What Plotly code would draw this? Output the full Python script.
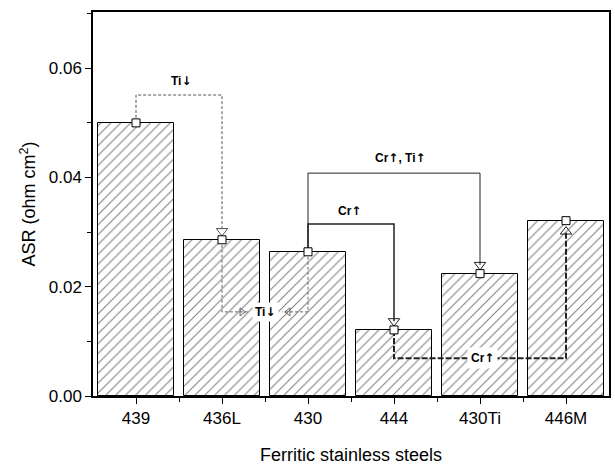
import plotly.graph_objects as go

# ---- data ----
categories = ["439", "436L", "430", "444", "430Ti", "446M"]
asr = [0.0500, 0.0286, 0.0264, 0.0121, 0.0224, 0.0321]
y_ticks = [0.00, 0.02, 0.04, 0.06]

DOWN = "<span style='font-family:DejaVu Sans'>\u2193</span>"
UP = "<span style='font-family:DejaVu Sans'>\u2191</span>"

# connectors: (from index, to index, bracket level, label, label x, label y)
connectors_top = [
    (0, 1, 0.0551, "Ti" + DOWN, 0.53, 0.0577),
    (2, 3, 0.0315, "Cr" + UP, 2.48, 0.0339),
    (2, 4, 0.0408, "Cr" + UP + ", Ti" + UP, 3.07, 0.0436),
]
# lower connectors
ti_low = (1, 2, 0.0154, "Ti" + DOWN, 1.5)
cr_low = (3, 5, 0.0069, "Cr" + UP, 4.03)

FONT = "Arial, Liberation Sans, sans-serif"
x = list(range(len(categories)))

fig = go.Figure()
fig.add_trace(go.Bar(
    x=x, y=asr, width=0.88,
    marker=dict(color="white", line=dict(color="black", width=1),
                pattern=dict(shape="/", fgcolor="black", bgcolor="white",
                             size=7, solidity=0.15)),
    showlegend=False, hoverinfo="skip"))

styles = [
    dict(color="#555", width=1, dash="3px,2px"),
    dict(color="#222", width=1.5, dash="solid"),
    dict(color="#222", width=1, dash="solid"),
]
ann = []
for (a, b, lvl, lab, lx, ly), st in zip(connectors_top, styles):
    fig.add_trace(go.Scatter(
        x=[a, a, b, b], y=[asr[a], lvl, lvl, asr[b] + 0.0016],
        mode="lines", line=st, showlegend=False, hoverinfo="skip"))
    fig.add_trace(go.Scatter(
        x=[b], y=[asr[b] + 0.0016], mode="markers",
        marker=dict(symbol="triangle-down-open", size=10,
                    color=st["color"], line=dict(width=1)),
        showlegend=False, hoverinfo="skip"))
    ann.append(dict(x=lx, y=ly, text="<b>" + lab + "</b>", showarrow=False,
                    font=dict(family=FONT, size=12, color="black")))

# lower Ti connector (two halves meeting at label)
a, b, lvl, lab, lx = ti_low
st = dict(color="#666", width=1, dash="3px,2px")
fig.add_trace(go.Scatter(x=[a, a, lx - 0.2], y=[asr[a], lvl, lvl], mode="lines",
                         line=st, showlegend=False, hoverinfo="skip"))
fig.add_trace(go.Scatter(x=[b, b, lx + 0.2], y=[asr[b], lvl, lvl], mode="lines",
                         line=st, showlegend=False, hoverinfo="skip"))
fig.add_trace(go.Scatter(x=[lx - 0.27, lx + 0.27], y=[lvl, lvl], mode="markers",
                         marker=dict(symbol=["triangle-right-open", "triangle-left-open"],
                                     size=7, color="#666", line=dict(width=1)),
                         showlegend=False, hoverinfo="skip"))
ann.append(dict(x=lx, y=lvl, text="<b>" + lab + "</b>", showarrow=False,
                bgcolor="white", borderpad=2,
                font=dict(family=FONT, size=12, color="black")))

# lower Cr connector
a, b, lvl, lab, lx = cr_low
st = dict(color="#222", width=2, dash="6px,2px")
fig.add_trace(go.Scatter(x=[a, a, b, b], y=[asr[a], lvl, lvl, asr[b] - 0.002],
                         mode="lines", line=st, showlegend=False, hoverinfo="skip"))
fig.add_trace(go.Scatter(x=[b], y=[asr[b] - 0.002], mode="markers",
                         marker=dict(symbol="triangle-up-open", size=10,
                                     color="#222", line=dict(width=1)),
                         showlegend=False, hoverinfo="skip"))
ann.append(dict(x=lx, y=lvl, text="<b>" + lab + "</b>", showarrow=False,
                bgcolor="white", borderpad=3,
                font=dict(family=FONT, size=12, color="black")))

# square markers at bar tops
fig.add_trace(go.Scatter(
    x=x, y=asr, mode="markers",
    marker=dict(symbol="square", size=8, color="white",
                line=dict(color="black", width=1)),
    showlegend=False, hoverinfo="skip"))

fig.update_layout(
    width=615, height=465,
    margin=dict(l=93, r=6, t=12, b=69),
    paper_bgcolor="white", plot_bgcolor="white",
    font=dict(family=FONT, size=17, color="black"),
    annotations=ann,
    bargap=0,
)
fig.update_xaxes(
    range=[-0.5, 5.5], tickvals=x, ticktext=categories,
    showgrid=False, zeroline=False, automargin=False,
    showline=True, linecolor="black", linewidth=1.5, mirror=True,
    ticks="outside", ticklen=6, tickwidth=1, tickcolor="black",
    minor=dict(tickvals=[0.5, 1.5, 2.5, 3.5, 4.5], ticks="outside",
               ticklen=4, tickcolor="black", showgrid=False),
    tickfont=dict(size=17),
    title=dict(text="Ferritic stainless steels", font=dict(size=18), standoff=22),
)
fig.update_yaxes(
    range=[0, 0.0703], tickvals=y_ticks, tickformat=".2f",
    showgrid=False, zeroline=False, automargin=False,
    showline=True, linecolor="black", linewidth=1.5, mirror=True,
    ticks="outside", ticklen=6, tickwidth=1, tickcolor="black",
    minor=dict(dtick=0.01, tick0=0, ticks="outside", ticklen=4,
               tickcolor="black", showgrid=False),
    tickfont=dict(size=17),
    title=dict(text="ASR (ohm cm<sup>2</sup>)", font=dict(size=18), standoff=8),
)

fig.write_html("out.html")
